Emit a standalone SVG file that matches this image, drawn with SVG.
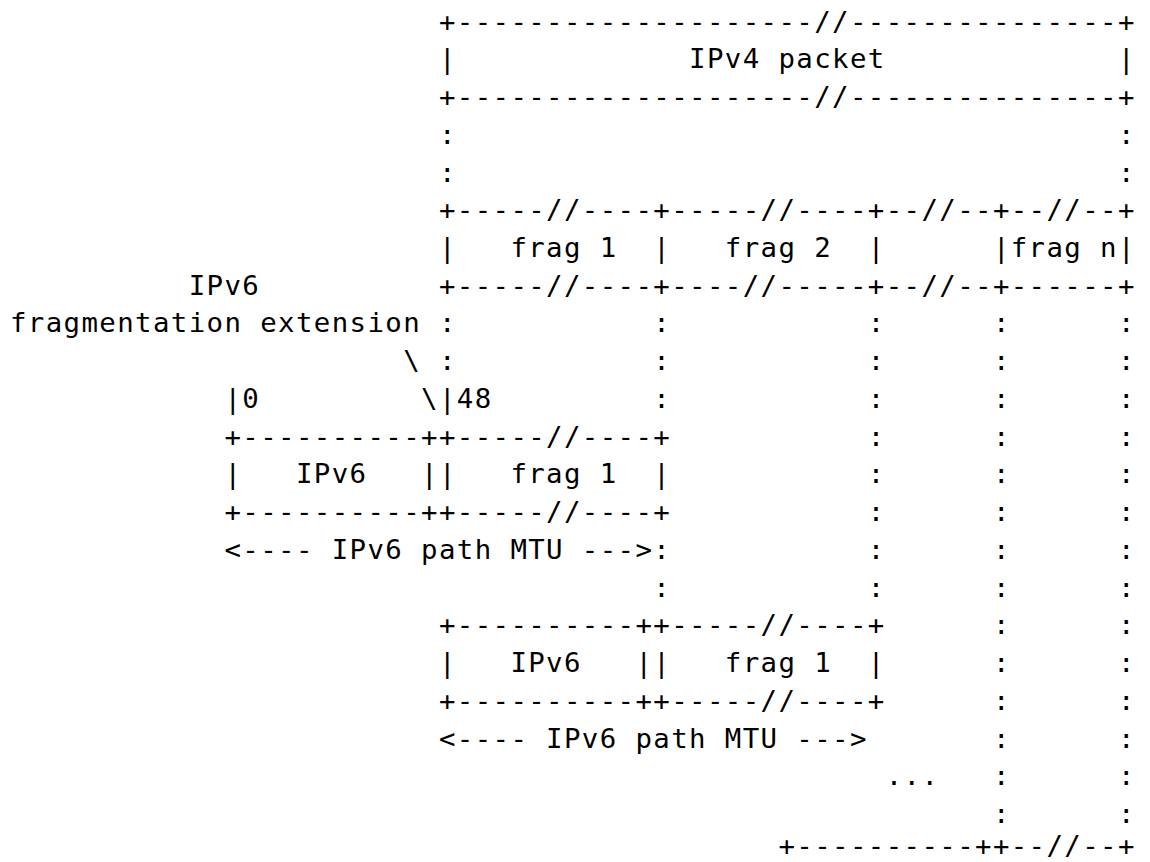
<svg xmlns="http://www.w3.org/2000/svg" width="1150" height="862" viewBox="0 0 1150 862">
<style>
text{font-family:"DejaVu Sans Mono","Liberation Mono",monospace;font-size:27.4px;letter-spacing:1.38px;fill:#000;white-space:pre}
</style>
<rect width="1150" height="862" fill="#fff"/>
<g id="ascii" xml:space="preserve">
<text x="10" y="30.6">                        +--------------------//---------------+</text>
<text x="10" y="68.3">                        |             IPv4 packet             |</text>
<text x="10" y="106.1">                        +--------------------//---------------+</text>
<text x="10" y="143.8">                        :                                     :</text>
<text x="10" y="181.5">                        :                                     :</text>
<text x="10" y="219.3">                        +-----//----+-----//----+--//--+--//--+</text>
<text x="10" y="257.0">                        |   frag 1  |   frag 2  |      |frag n|</text>
<text x="10" y="294.7">          IPv6          +-----//----+----//-----+--//--+------+</text>
<text x="10" y="332.4">fragmentation extension :           :           :      :      :</text>
<text x="10" y="370.2">                      \ :           :           :      :      :</text>
<text x="10" y="407.9">            |0         \|48         :           :      :      :</text>
<text x="10" y="445.6">            +----------++-----//----+           :      :      :</text>
<text x="10" y="483.4">            |   IPv6   ||   frag 1  |           :      :      :</text>
<text x="10" y="521.1">            +----------++-----//----+           :      :      :</text>
<text x="10" y="558.8">            &lt;---- IPv6 path MTU ---&gt;:           :      :      :</text>
<text x="10" y="596.6">                                    :           :      :      :</text>
<text x="10" y="634.3">                        +----------++-----//----+      :      :</text>
<text x="10" y="672.0">                        |   IPv6   ||   frag 1  |      :      :</text>
<text x="10" y="709.7">                        +----------++-----//----+      :      :</text>
<text x="10" y="747.5">                        &lt;---- IPv6 path MTU ---&gt;       :      :</text>
<text x="10" y="785.2">                                                 ...   :      :</text>
<text x="10" y="822.9">                                                       :      :</text>
<text x="10" y="855">                                           +----------++--//--+</text>
</g>
</svg>
